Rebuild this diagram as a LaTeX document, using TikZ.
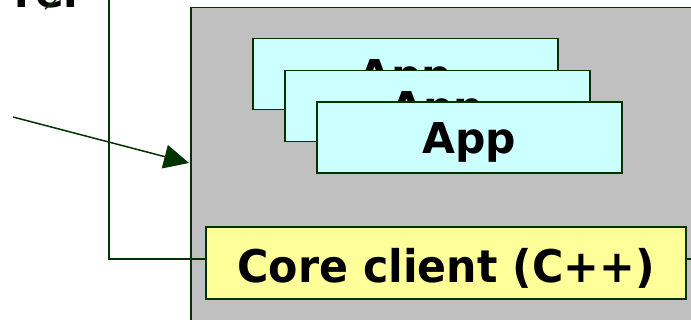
\documentclass[tikz,border=0pt]{standalone}
\usepackage{fontspec}
\usepackage{graphicx}
\newfontfamily\dvs{DejaVu Sans}
\usetikzlibrary{arrows.meta}
\definecolor{edge}{HTML}{003300}
\definecolor{hostgrey}{HTML}{C0C0C0}
\definecolor{appcyan}{HTML}{CCFFFF}
\definecolor{coreyellow}{HTML}{FFFF99}
\tikzset{
  conn/.style={draw=edge, line width=1.5pt},
  appbox/.style={draw=edge, fill=appcyan, line width=1.5pt, minimum width=305pt, minimum height=71pt, inner sep=0pt,
    text height=33pt, text depth=0pt,
    font=\dvs\bfseries\fontsize{42.5}{50}\selectfont},
  corebox/.style={draw=edge, fill=coreyellow, line width=1.5pt, minimum width=480pt, minimum height=72pt, inner sep=0pt,
    text height=38.5pt, text depth=0pt,
    font=\dvs\bfseries\fontsize{45}{52}\selectfont},
  hostbox/.style={draw=edge, fill=hostgrey, line width=1.5pt, minimum width=560pt, minimum height=360pt, inner sep=0pt, anchor=north west},
  lbl/.style={font=\dvs\bfseries\fontsize{42.5}{50}\selectfont, inner sep=0pt, anchor=base west}
}
\begin{document}
\begin{tikzpicture}[x=1pt,y=-1pt]
\useasboundingbox (0,0) rectangle (691,320);
\clip (0,0) rectangle (691,320);
% cropped title text
\node[lbl] (title) at (14,8) {rer};
\coordinate (ta) at (45,9);
\coordinate (tb) at (56,0);
\draw[conn] (ta) -- (tb);
% host box
\node[hostbox] (host) at (190,7) {};
% connector from top to core client
\coordinate (top) at (109,-2);
\coordinate (bend) at (109,259);
\coordinate (rightend) at (695,259);
% incoming arrow
\coordinate (arrstart) at (13,117);
\coordinate (arrtip) at (189,163);
\draw[conn, -{Triangle[length=25pt,width=24pt]}] (arrstart) -- (arrtip);
% apps
\node[appbox] (app1) at (405.5,74) {App};
\node[appbox] (app2) at (437.5,106) {App};
\node[appbox] (app3) at (469.5,137.5) {App};
% core client
\node[corebox] (core) at (446,263) {\scalebox{0.95}[1]{Core client (C++)}};
\draw[conn] (top) -- (bend) -- (bend -| core.west);
\draw[conn] (core.east |- rightend) -- (rightend);
\end{tikzpicture}
\end{document}
